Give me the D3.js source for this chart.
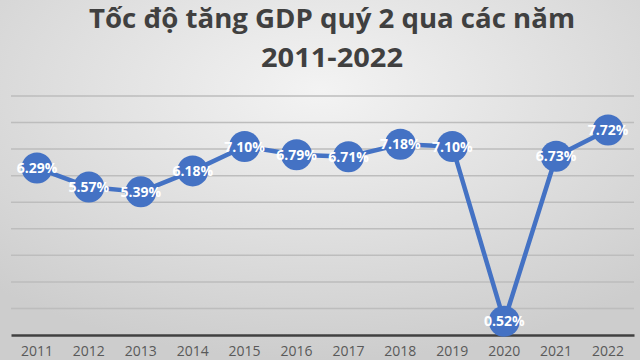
<!DOCTYPE html>
<html>
<head>
<meta charset="utf-8">
<script src="https://cdn.jsdelivr.net/npm/d3@7"></script>
<style>
	html, body { margin: 0; padding: 0; overflow: hidden; }
	svg { display: block; }
</style>
</head>
<body>
<svg id="chart" width="640" height="360"></svg>
<script>
// Chart data
const titleLines = ["Tốc độ tăng GDP quý 2 qua các năm", "2011-2022"]
const years = ["2011", "2012", "2013", "2014", "2015", "2016", "2017", "2018", "2019", "2020", "2021", "2022"]
const growth = [6.29, 5.57, 5.39, 6.18, 7.10, 6.79, 6.71, 7.18, 7.10, 0.52, 6.73, 7.72]
const gridValues = [0, 1, 2, 3, 4, 5, 6, 7, 8, 9]

const width = 640
const height = 360
const margin = { top: 96, right: 6, bottom: 25, left: 11 }
const blue = "#4472c4"

const svg = d3.select("#chart")

// Background: soft radial grey like the Office chart style
const defs = svg.append("defs")
const grad = defs.append("radialGradient")
	.attr("id", "bg")
	.attr("cx", "50%").attr("cy", "25%")
	.attr("r", "75%")
grad.append("stop").attr("offset", "0%").attr("stop-color", "#f3f3f3")
grad.append("stop").attr("offset", "100%").attr("stop-color", "#cdcdcd")
svg.append("rect")
	.attr("width", width)
	.attr("height", height)
	.attr("fill", "url(#bg)")

const x = d3.scaleBand()
	.domain(years)
	.range([margin.left, width - margin.right])

const y = d3.scaleLinear()
	.domain([0, 9])
	.range([height - margin.bottom, margin.top])

// Gridlines
svg.append("g")
	.attr("class", "grid")
	.selectAll("line")
	.data(gridValues.filter(v => v > 0))
	.join("line")
	.attr("x1", margin.left)
	.attr("x2", width - margin.right)
	.attr("y1", d => y(d))
	.attr("y2", d => y(d))
	.attr("stroke", "#bdbdbd")
	.attr("stroke-width", 1.5)

// X axis (labels sit low, close to the bottom edge as in the original)
const xAxis = svg.append("g")
	.attr("transform", `translate(0, ${y(0)})`)
	.call(d3.axisBottom(x).tickSize(0).tickPadding(11))
xAxis.select(".domain")
	.attr("stroke", "#404040")
	.attr("stroke-width", 2.5)
xAxis.selectAll("text")
	.attr("fill", "#595959")
	.style("font-family", "'Open Sans', sans-serif")
	.style("font-size", "14px")

// Series line
const points = years.map((yr, i) => ({ year: yr, value: growth[i] }))
const cx = d => x(d.year) + x.bandwidth() / 2

svg.append("path")
	.datum(points)
	.attr("fill", "none")
	.attr("stroke", blue)
	.attr("stroke-width", 4.5)
	.attr("stroke-linejoin", "round")
	.attr("d", d3.line().x(cx).y(d => y(d.value)))

// Markers and data labels
const marks = svg.append("g")
	.selectAll("g")
	.data(points)
	.join("g")
	.attr("transform", d => `translate(${cx(d)}, ${y(d.value)})`)
marks.append("circle")
	.attr("r", 15.5)
	.attr("fill", blue)
marks.append("text")
	.attr("text-anchor", "middle")
	.attr("dy", "0.36em")
	.attr("fill", "#fff")
	.style("font-family", "'Open Sans', sans-serif")
	.style("font-weight", "bold")
	.style("font-size", "14px")
	.text(d => d.value.toFixed(2) + "%")

// Title
svg.append("g")
	.selectAll("text")
	.data(titleLines)
	.join("text")
	.attr("x", 332)
	.attr("y", (d, i) => 28 + i * 39)
	.attr("text-anchor", "middle")
	.attr("fill", "#404040")
	.style("font-family", "'Open Sans', sans-serif")
	.style("font-weight", "bold")
	.style("font-size", "26px")
	.attr("textLength", (d, i) => i === 0 ? 486 : 142)
	.attr("lengthAdjust", "spacingAndGlyphs")
	.text(d => d)
</script>
</body>
</html>
